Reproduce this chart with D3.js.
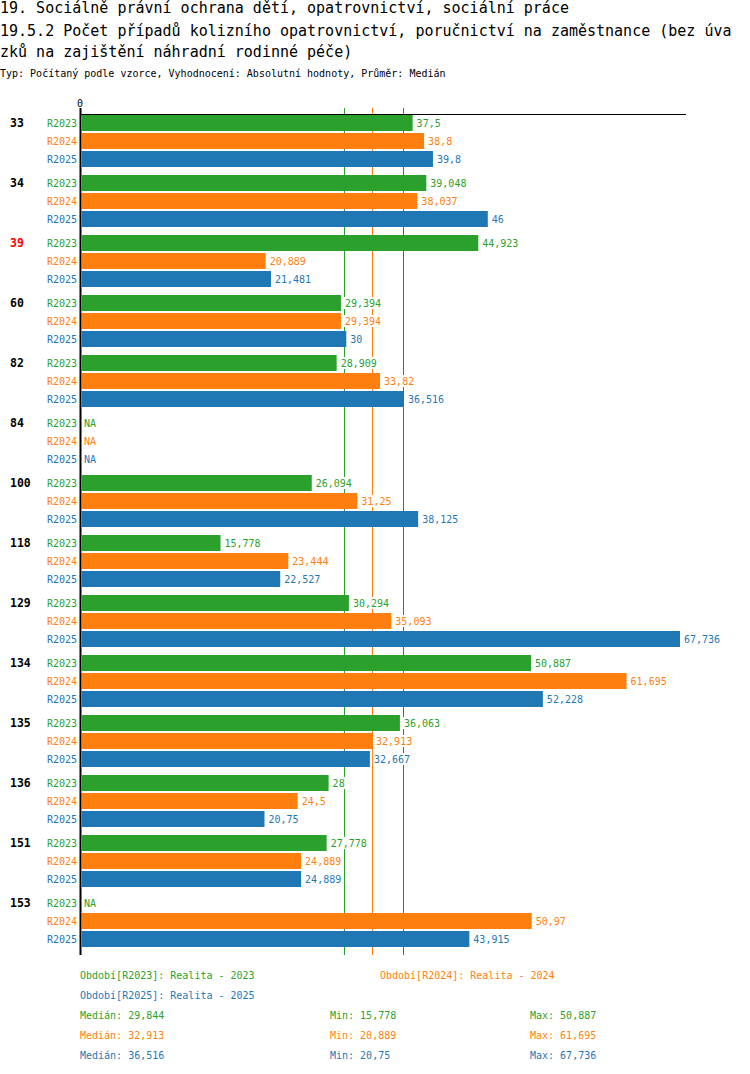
<!DOCTYPE html>
<html><head><meta charset="utf-8">
<script src="https://cdn.jsdelivr.net/npm/d3@7/dist/d3.min.js"></script>
<style>body{margin:0;background:#fff}text{font-family:"DejaVu Sans Mono",monospace}</style>
</head><body><svg id="c" width="750" height="1074"></svg>
<script>
const groups = ["33","34","39","60","82","84","100","118","129","134","135","136","151","153"];
const highlight = ["39"];
const series = ["R2023","R2024","R2025"];
const colors = ["#2ca02c","#ff7f0e","#1f77b4"];
const v2023 = [37.5,39.048,44.923,29.394,28.909,null,26.094,15.778,30.294,50.887,36.063,28,27.778,null];
const v2024 = [38.8,38.037,20.889,29.394,33.82,null,31.25,23.444,35.093,61.695,32.913,24.5,24.889,50.97];
const v2025 = [39.8,46,21.481,30,36.516,null,38.125,22.527,67.736,52.228,32.667,20.75,24.889,43.915];
const values = [v2023,v2024,v2025];
const legendNames = ["Období[R2023]: Realita - 2023","Období[R2024]: Realita - 2024","Období[R2025]: Realita - 2025"];
const titleLines = ["19. Sociálně právní ochrana dětí, opatrovnictví, sociální práce","19.5.2 Počet případů kolizního opatrovnictví, poručnictví na zaměstnance (bez úva","zků na zajištění náhradní rodinné péče)"];
const subtitle = "Typ: Počítaný podle vzorce, Vyhodnocení: Absolutní hodnoty, Průměr: Medián";

const svg = d3.select("#c");
const fmt = v => { let s = (Math.round(v*1000)/1000).toString(); return s.replace(".", ","); };

titleLines.forEach((t,i)=> svg.append("text").attr("x",0).attr("y",[13,36,57][i]).attr("font-size","15px").attr("fill","#000").text(t));
svg.append("text").attr("x",0).attr("y",77).attr("font-size","10px").attr("fill","#000").text(subtitle);

const allVals = values.flat().filter(v=>v!=null);
const x = d3.scaleLinear().domain([0, d3.max(allVals)*1.01]).range([81, 686]);
const gy = d3.scaleBand().domain(groups).range([115, 955]);
const sy = d3.scaleBand().domain(series).range([0, 52]).paddingInner(2/18);

const stats = values.map(arr => { const a = arr.filter(v=>v!=null); return {med: d3.median(a), min: d3.min(a), max: d3.max(a)}; });

// median lines
stats.forEach((s,i)=> svg.append("line").attr("x1",x(s.med)).attr("x2",x(s.med)).attr("y1",108).attr("y2",955).attr("stroke",colors[i]).attr("stroke-width",1).attr("shape-rendering","crispEdges"));

// axis
svg.append("line").attr("x1",80).attr("x2",686).attr("y1",114.5).attr("y2",114.5).attr("stroke","#000").attr("stroke-width",1.2);
svg.append("line").attr("x1",80.5).attr("x2",80.5).attr("y1",108).attr("y2",955).attr("stroke","#000").attr("stroke-width",2);
svg.append("text").attr("x",x(0)-1).attr("y",107).attr("font-size","10px").attr("text-anchor","middle").text("0");

groups.forEach((g,gi)=>{
  svg.append("text").attr("x",10).attr("y",gy(g)+sy("R2023")+sy.bandwidth()/2+4).attr("font-size","11.5px").attr("font-weight","bold")
    .attr("fill", highlight.includes(g)?"#ff0000":"#000").text(g);
  series.forEach((s,si)=>{
    const v = values[si][gi];
    const yc = gy(g)+sy(s)+sy.bandwidth()/2;
    svg.append("text").attr("x",77).attr("y",yc+3.5).attr("font-size","10px").attr("text-anchor","end").attr("fill",colors[si]).text(s);
    if(v==null){
      svg.append("text").attr("x",84).attr("y",yc+3.5).attr("font-size","10px").attr("fill",colors[si]).text("NA");
      return;
    }
    svg.append("rect").attr("x",x(0)+1).attr("y",gy(g)+sy(s)).attr("width",x(v)-x(0)-1).attr("height",sy.bandwidth()).attr("fill",colors[si]);
    const lx = x(v)+4;
    const bg = svg.append("rect").attr("fill","#fff");
    const t = svg.append("text").attr("x",lx).attr("y",yc+3.5).attr("font-size","10px").attr("fill",colors[si]).text(fmt(v));
    const w = t.node().getComputedTextLength();
    bg.attr("x",lx-1).attr("y",yc-6).attr("width",w+2).attr("height",12);
  });
});

// legend
const lg = [[80,975],[380,975],[80,995]];
legendNames.forEach((n,i)=> svg.append("text").attr("x",lg[i][0]).attr("y",lg[i][1]+3.5).attr("font-size","10px").attr("fill",colors[i]).text(n));
stats.forEach((s,i)=>{
  const y = 1015 + 20*i + 3.5;
  svg.append("text").attr("x",80).attr("y",y).attr("font-size","10px").attr("fill",colors[i]).text("Medián: "+fmt(s.med));
  svg.append("text").attr("x",330).attr("y",y).attr("font-size","10px").attr("fill",colors[i]).text("Min: "+fmt(s.min));
  svg.append("text").attr("x",530).attr("y",y).attr("font-size","10px").attr("fill",colors[i]).text("Max: "+fmt(s.max));
});
</script></body></html>
